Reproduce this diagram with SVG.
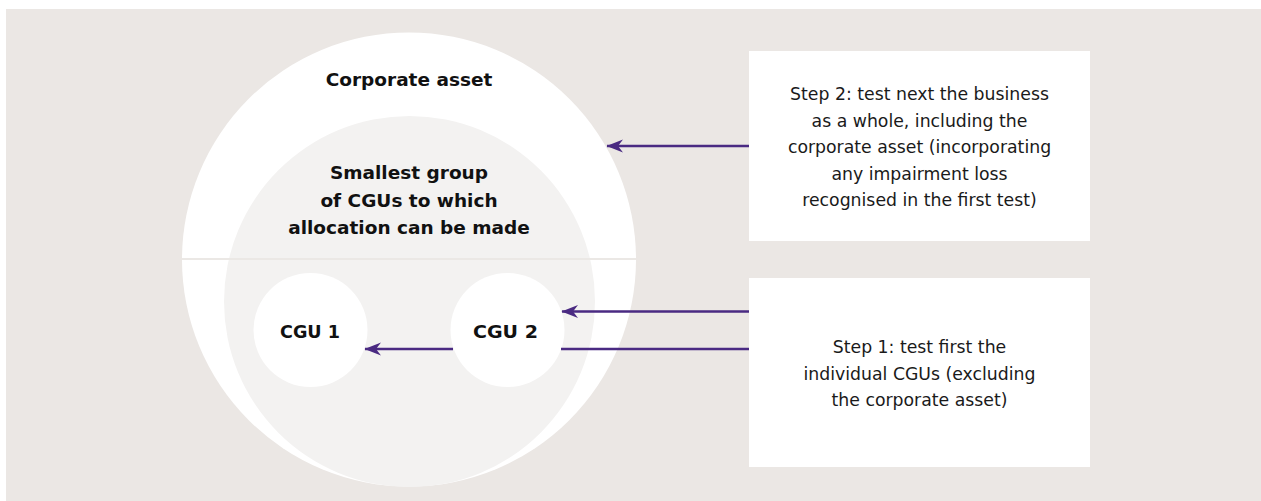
<svg xmlns="http://www.w3.org/2000/svg" width="1261" height="501" viewBox="0 0 1261 501">
  <style>
    .bold { font-family: "DejaVu Sans", "Liberation Sans", sans-serif; font-weight: bold; font-size: 18.5px; fill: #111111; text-anchor: middle; }
    .reg { font-family: "DejaVu Sans", "Liberation Sans", sans-serif; font-size: 17.3px; fill: #1a1a1a; text-anchor: middle; }
    .box { fill: #ffffff; }
    .conn { stroke: #4a2a82; stroke-width: 2.6; fill: none; }
  </style>
  <defs>
    <marker id="arrow" viewBox="0 -7 17 14" refX="16" refY="0" markerWidth="17" markerHeight="14" markerUnits="userSpaceOnUse" orient="auto">
      <path d="M0,-6.5 L16.5,0 L0,6.5 L5,0 Z" fill="#4a2a82"/>
    </marker>
  </defs>
  <rect x="6" y="9" width="1255" height="492" fill="#ebe7e4"/>

  <g id="corporate-asset">
    <circle cx="409" cy="259.5" r="227" fill="#ffffff"/>
    <text class="bold" x="409" y="86">Corporate asset</text>
  </g>

  <g id="smallest-group">
    <circle cx="409.5" cy="301.5" r="185.5" fill="#f3f2f1"/>
    <text class="bold" x="409" y="179">Smallest group</text>
    <text class="bold" x="409" y="206.5">of CGUs to which</text>
    <text class="bold" x="409" y="234">allocation can be made</text>
  </g>

  <line id="divider" x1="182" y1="259" x2="636" y2="259" stroke="#ebe8e5" stroke-width="2"/>

  <g id="cgu1">
    <circle cx="310.5" cy="330" r="57" fill="#ffffff"/>
    <text class="bold" x="310" y="338" textLength="60" lengthAdjust="spacingAndGlyphs">CGU 1</text>
  </g>

  <g id="cgu2">
    <circle cx="507.5" cy="330" r="57" fill="#ffffff"/>
    <text class="bold" x="505.5" y="338" textLength="65" lengthAdjust="spacingAndGlyphs">CGU 2</text>
  </g>

  <g id="step2">
    <rect class="box" x="749" y="51" width="341" height="190"/>
    <text class="reg" x="919.5" y="100">Step 2: test next the business</text>
    <text class="reg" x="919.5" y="126.5">as a whole, including the</text>
    <text class="reg" x="919.5" y="153">corporate asset (incorporating</text>
    <text class="reg" x="919.5" y="179.5">any impairment loss</text>
    <text class="reg" x="919.5" y="206">recognised in the first test)</text>
  </g>

  <g id="step1">
    <rect class="box" x="749" y="278" width="341" height="189"/>
    <text class="reg" x="919.5" y="353">Step 1: test first the</text>
    <text class="reg" x="919.5" y="379.5">individual CGUs (excluding</text>
    <text class="reg" x="919.5" y="406">the corporate asset)</text>
  </g>

  <g id="connectors">
    <path class="conn" d="M749,146 H607" marker-end="url(#arrow)"/>
    <path class="conn" d="M749,311.5 H562" marker-end="url(#arrow)"/>
    <path class="conn" d="M749,349 H561 M453,349 H365" marker-end="url(#arrow)"/>
  </g>
</svg>
